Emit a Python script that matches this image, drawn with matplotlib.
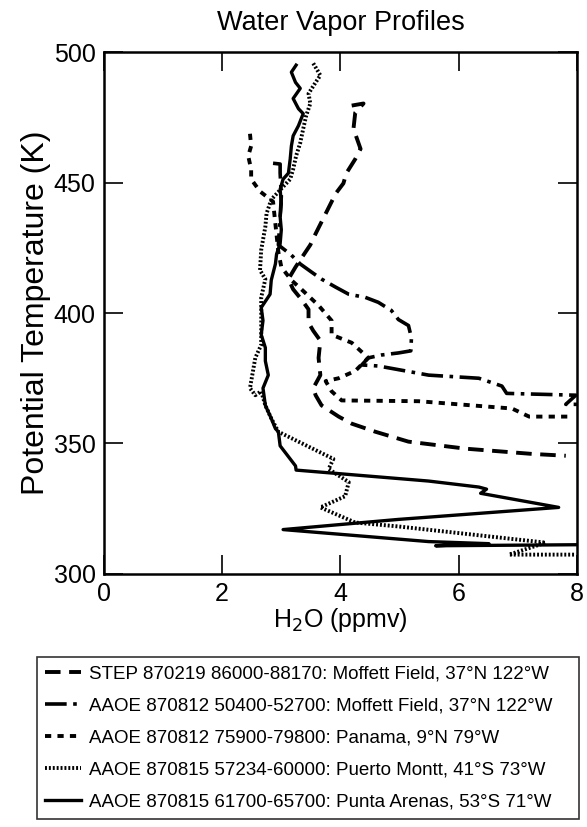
import matplotlib.pyplot as plt

plt.rcParams['font.family'] = ['Liberation Sans', 'DejaVu Sans']

# STEP 870219 86000-88170: Moffett Field
step_h2o = [4.19, 4.39, 4.25, 4.22, 4.34, 4.25, 4.10, 4.05, 3.92, 3.75, 3.58, 3.49,
            3.41, 3.24, 3.12, 3.20, 3.34, 3.46, 3.46, 3.54, 3.66, 3.63, 3.66, 3.54,
            3.58, 3.68, 3.97, 4.19, 4.59, 5.15, 6.12, 7.24, 7.81]
step_theta = [479.5, 480.3, 476.8, 470.6, 462.9, 459.0, 453.6, 449.7, 445.8, 438.1,
              430.4, 426.1, 423.4, 417.6, 413.0, 409.1, 405.2, 401.4, 396.3, 393.2,
              389.4, 382.8, 376.2, 371.2, 368.5, 364.6, 360.3, 357.6, 354.5, 350.7,
              348.0, 346.0, 345.3]

# AAOE 870812 50400-52700: Moffett Field
moff_h2o = [2.86, 2.98, 2.98, 3.00, 2.98, 2.95, 3.17, 3.32, 3.51, 3.68, 3.92, 4.14,
            4.42, 4.64, 4.86, 4.98, 5.15, 5.20, 5.19, 4.98, 4.69, 4.47, 4.36, 4.64,
            5.49, 6.34, 6.73, 6.81, 7.98, 7.81, 8.03]
moff_theta = [457.4, 457.1, 453.6, 444.7, 436.9, 426.1, 422.2, 418.8, 415.7, 413.0,
              409.9, 407.2, 406.0, 404.1, 401.0, 397.5, 395.2, 390.5, 385.5, 384.7,
              383.9, 382.8, 380.1, 379.7, 376.2, 375.0, 372.0, 369.2, 368.5, 365.0,
              365.0]

# AAOE 870812 75900-79800: Panama
pan_h2o = [2.47, 2.49, 2.44, 2.49, 2.49, 2.64, 2.86, 2.95, 3.00, 3.17, 3.34, 3.63,
           3.85, 3.85, 4.19, 4.47, 4.25, 3.97, 3.75, 3.85, 4.02, 5.32, 6.90, 7.19, 7.92]
pan_theta = [468.7, 464.0, 460.2, 455.1, 451.3, 446.6, 442.7, 423.4, 417.6, 412.6,
             409.1, 402.9, 397.1, 391.7, 388.6, 382.8, 377.8, 375.0, 373.9, 370.0,
             366.5, 366.2, 363.4, 360.3, 360.3]

# AAOE 870815 57234-60000: Puerto Montt
pm_h2o = [3.54, 3.66, 3.58, 3.46, 3.49, 3.42, 3.37, 3.32, 3.25, 3.20, 3.15, 2.83,
          2.75, 2.73, 2.66, 2.64, 2.73, 2.66, 2.66, 2.56, 2.47, 2.56, 2.66, 2.73,
          2.83, 2.95, 3.88, 3.80, 4.14, 4.08, 3.66, 4.25, 4.98, 7.47, 6.85, 7.98]
pm_theta = [495.7, 491.1, 488.4, 484.1, 480.3, 475.6, 470.6, 465.2, 460.2, 455.1,
            451.3, 443.5, 438.1, 433.1, 424.2, 416.4, 413.0, 406.0, 387.8, 382.8,
            371.2, 368.5, 370.0, 364.6, 359.6, 354.5, 344.1, 340.2, 335.2, 329.8,
            325.5, 319.7, 318.2, 312.0, 307.4, 307.4]

# AAOE 870815 61700-65700: Punta Arenas
pa_h2o = [3.25, 3.17, 3.24, 3.32, 3.20, 3.29, 3.37, 3.29, 3.20, 3.17, 3.15, 3.12,
          3.03, 2.98, 3.00, 2.98, 3.00, 2.98, 2.92, 2.90, 2.83, 2.81, 2.66, 2.69,
          2.66, 2.73, 2.73, 2.78, 2.69, 2.73, 2.83, 2.90, 2.95, 2.98, 3.24, 3.25,
          5.49, 6.34, 6.47, 6.37, 7.69, 4.98, 3.03, 5.49, 6.51, 5.61, 8.03]
pa_theta = [495.0, 492.3, 488.4, 486.1, 482.2, 478.3, 476.4, 471.8, 467.9, 464.0,
            459.0, 453.6, 451.3, 447.4, 442.0, 436.9, 431.9, 426.5, 422.6, 418.8,
            412.6, 407.2, 402.1, 397.1, 391.7, 386.7, 381.6, 376.2, 371.2, 364.6,
            359.6, 355.7, 354.5, 349.1, 341.4, 339.8, 335.6, 333.3, 332.5, 330.9,
            325.5, 320.9, 317.0, 312.4, 311.6, 310.8, 311.2]

labels = ['STEP 870219 86000-88170: Moffett Field, 37°N 122°W',
          'AAOE 870812 50400-52700: Moffett Field, 37°N 122°W',
          'AAOE 870812 75900-79800: Panama, 9°N 79°W',
          'AAOE 870815 57234-60000: Puerto Montt, 41°S 73°W',
          'AAOE 870815 61700-65700: Punta Arenas, 53°S 71°W']

fig = plt.figure(figsize=(5.87, 8.27), dpi=100)
ax = fig.add_axes([0.177, 0.306, 0.806, 0.631])

ax.plot(step_h2o, step_theta, color='k', lw=2.8, ls=(0, (4, 2.2)), label=labels[0])
ax.plot(moff_h2o, moff_theta, color='k', lw=2.6, ls=(0, (6, 1.8, 1, 1.8)), label=labels[1])
ax.plot(pan_h2o, pan_theta, color='k', lw=2.8, ls=(0, (1.6, 1.6)), label=labels[2])
ax.plot(pm_h2o, pm_theta, color='k', lw=2.8, ls=(0, (0.5, 0.5)), label=labels[3])
ax.plot(pa_h2o, pa_theta, color='k', lw=2.4, ls='-', label=labels[4])

ax.set_xlim(0, 8)
ax.set_ylim(300, 500)
ax.set_xticks([0, 2, 4, 6, 8])
ax.set_yticks([300, 350, 400, 450, 500])
ax.tick_params(direction='in', length=14, width=1.2, labelsize=18,
               top=True, right=True, pad=6)
for s in ax.spines.values():
    s.set_linewidth(1.8)

ax.set_title('Water Vapor Profiles', fontsize=19.5, pad=16)
ax.set_xlabel('H$_2$O (ppmv)', fontsize=18, labelpad=0)
ax.set_ylabel('Potential Temperature (K)', fontsize=23, labelpad=2)

handles, labs = ax.get_legend_handles_labels()
leg = fig.legend(handles, labs, loc='upper left',
                 bbox_to_anchor=(0.063, 0.0, 0.923, 0.206), mode='expand',
                 fontsize=13.5, frameon=True, fancybox=False, handlelength=1.9,
                 handletextpad=0.45, labelspacing=0.8, borderpad=0.45,
                 borderaxespad=0)
leg.get_frame().set_edgecolor('k')
leg.get_frame().set_linewidth(1.2)

fig.savefig('out.png', dpi=100)
